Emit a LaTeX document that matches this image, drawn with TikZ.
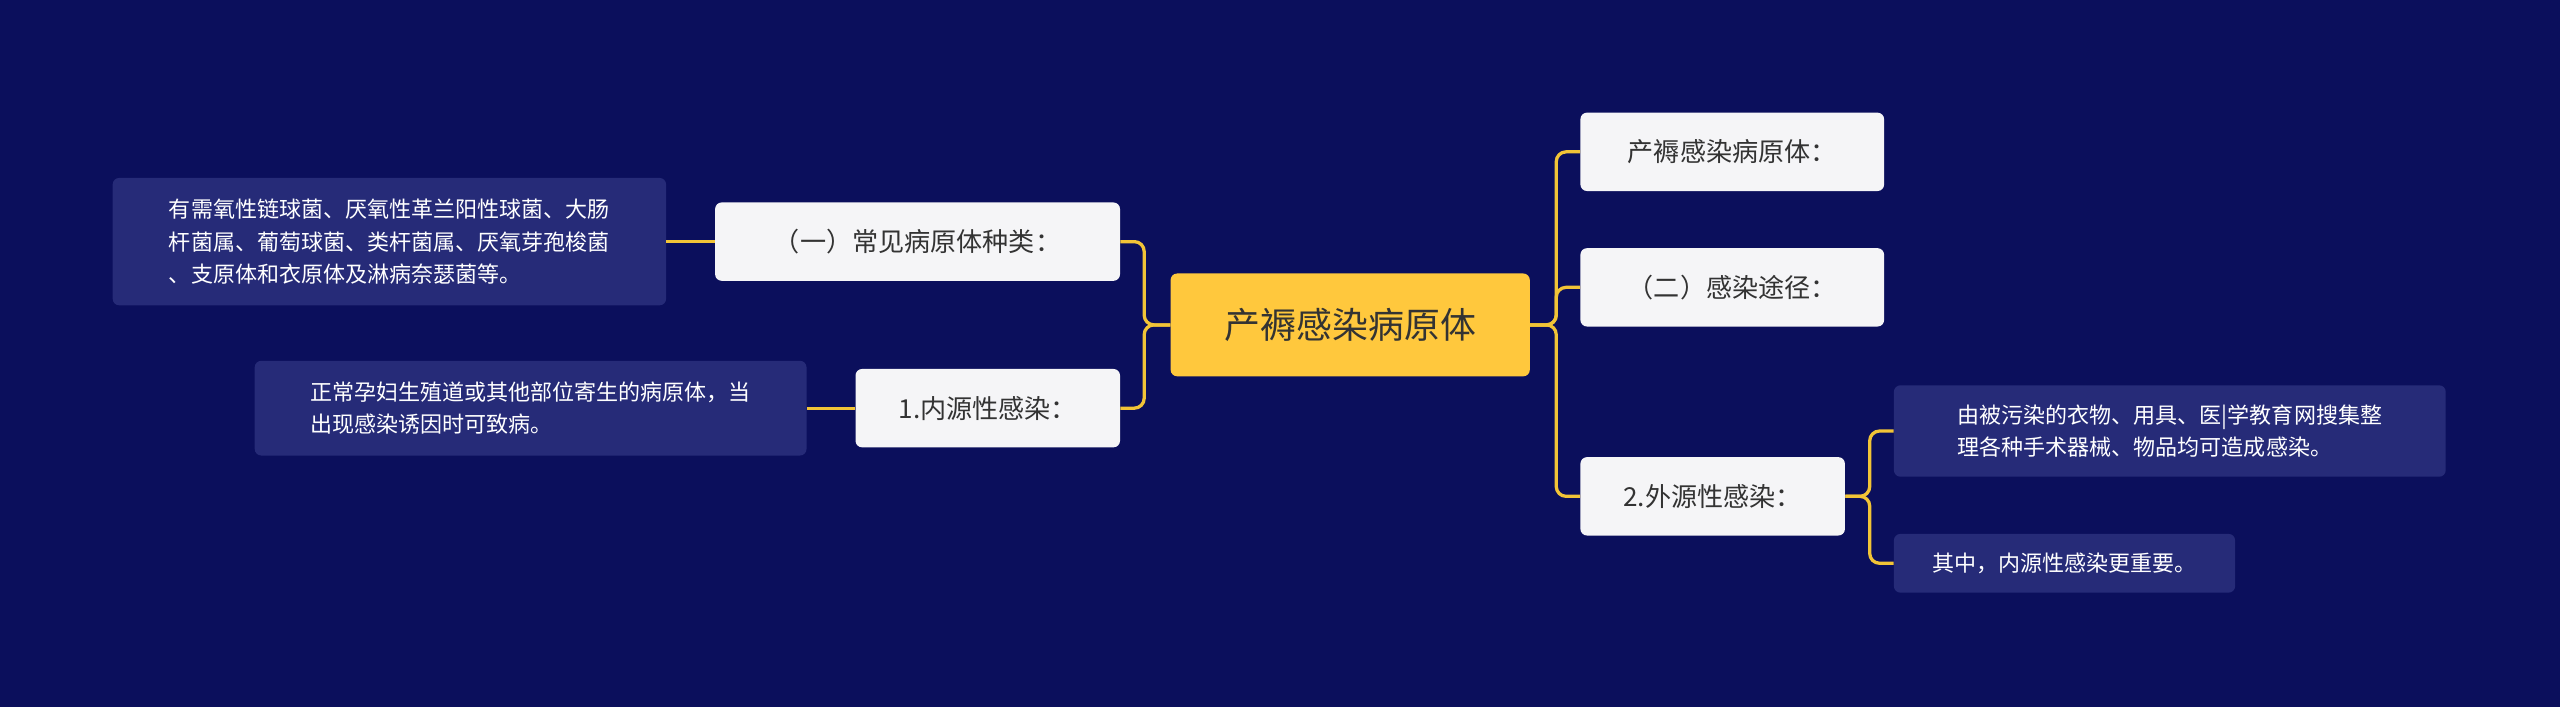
\documentclass[tikz,border=0pt]{standalone}
\usepackage{fontspec}
\setmainfont{Noto Sans CJK SC}
\usetikzlibrary{positioning}
\definecolor{bgnavy}{HTML}{0B0F5C}
\definecolor{rootyel}{HTML}{FFC83D}
\definecolor{linkyel}{HTML}{F2C437}
\definecolor{midwhite}{HTML}{F5F5F7}
\definecolor{leafblue}{HTML}{262B78}
\tikzstyle{rootbox} = [rectangle,rounded corners=4pt,fill=rootyel,text=black!80,minimum width=220pt,minimum height=63pt,font=\fontsize{22}{26}\selectfont]
\tikzstyle{midbox} = [rectangle,rounded corners=4pt,fill=midwhite,text=black!80,minimum height=48pt,font=\fontsize{16}{19}\selectfont]
\tikzstyle{leafbox} = [rectangle,rounded corners=4pt,fill=leafblue,text=white,align=left,font=\fontsize{13.5}{20}\selectfont,inner sep=7pt]
\tikzstyle{conn} = [draw=linkyel,line width=2pt,rounded corners=6pt]
\begin{document}
\begin{tikzpicture}[x=1pt,y=-1pt]
\fill[bgnavy] (0,0) rectangle (1568,433);

\node (root) [rootbox] at (827,199) {产褥感染病原体};
\node (r1) [midbox,minimum width=186pt] at (1061,93) {产褥感染病原体：};
\node (r2) [midbox,minimum width=186pt] at (1061,176) {（二）感染途径：};
\node (r3) [midbox,minimum width=162pt] at (1049,304) {2.外源性感染：};
\node (l1) [midbox,minimum width=248pt] at (562,148) {（一）常见病原体种类：};
\node (l2) [midbox,minimum width=162pt] at (605,250) {1.内源性感染：};
\node (r3a) [leafbox,minimum width=338pt,minimum height=56pt] at (1329,264) {由被污染的衣物、用具、医|学教育网搜集整\\理各种手术器械、物品均可造成感染。};
\node (r3b) [leafbox,minimum width=209pt,minimum height=36pt] at (1264.5,345) {其中，内源性感染更重要。};
\node (l1a) [leafbox,minimum width=339pt,minimum height=78pt] at (238.5,148) {有需氧性链球菌、厌氧性革兰阳性球菌、大肠\\杆菌属、葡萄球菌、类杆菌属、厌氧芽孢梭菌\\、支原体和衣原体及淋病奈瑟菌等。};
\node (l2a) [leafbox,minimum width=338pt,minimum height=58pt] at (325,250) {正常孕妇生殖道或其他部位寄生的病原体，当\\出现感染诱因时可致病。};

\draw[conn] (root.east)--++(16,0)|-(r1.west);
\draw[conn] (root.east)--++(16,0)|-(r2.west);
\draw[conn] (root.east)--++(16,0)|-(r3.west);
\draw[conn] (root.west)--++(-16,0)|-(l1.east);
\draw[conn] (root.west)--++(-16,0)|-(l2.east);
\draw[conn] (r3.east)--++(15,0)|-(r3a.west);
\draw[conn] (r3.east)--++(15,0)|-(r3b.west);
\draw[conn] (l1.west)--(l1a.east);
\draw[conn] (l2.west)--(l2a.east);

\end{tikzpicture}
\end{document}
